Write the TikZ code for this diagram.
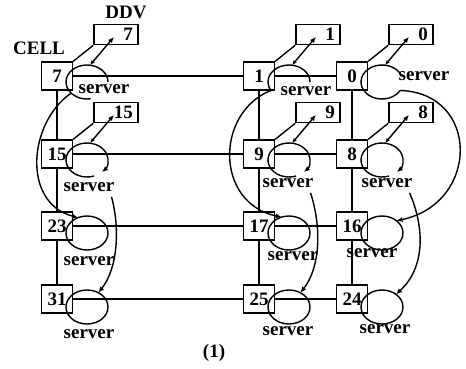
\documentclass[tikz,border=0pt]{standalone}
\usepackage{fontspec}
\setmainfont{Liberation Serif}
\usepackage{tikz}
\usetikzlibrary{arrows.meta,positioning,shapes.geometric}

\begin{document}
\begin{tikzpicture}[
  x=1pt, y=1pt,
  every node/.style={font=\fontsize{19}{21}\selectfont\bfseries},
  cellbox/.style={draw, line width=1.4pt, minimum width=31pt, minimum height=28pt, inner sep=0pt},
  ddvbox/.style={draw, line width=1.4pt, minimum height=20pt, text width=34pt, inner xsep=5pt, inner ysep=2pt, align=right},
  srv/.style={ellipse, minimum width=42pt, minimum height=34pt, inner sep=0pt, outer sep=0pt},
  srvfull/.style={srv, draw, line width=1.4pt},
  tag/.style={inner sep=1pt},
  wire/.style={line width=1.4pt},
  ring/.style={line width=1.4pt, x radius=21pt, y radius=17pt},
  link/.style={line width=1.4pt, -{Latex[length=6pt,width=5pt]}},
  duplex/.style={line width=1.4pt, {Latex[length=5pt,width=4pt]}-{Latex[length=6pt,width=5pt]}, shorten >=3pt}
]
\useasboundingbox (0,0) rectangle (466,368);

\node[cellbox] (c7) at (57,292) {7};
\node[cellbox] (c1) at (259,292) {1};
\node[cellbox] (c0) at (352,292) {0};
\node[cellbox] (c15) at (57,214) {15};
\node[cellbox] (c9) at (259,214) {9};
\node[cellbox] (c8) at (352,214) {8};
\node[cellbox] (c23) at (57,142) {23};
\node[cellbox] (c17) at (259,142) {17};
\node[cellbox] (c16) at (352,142) {16};
\node[cellbox] (c31) at (57,69) {31};
\node[cellbox] (c25) at (259,69) {25};
\node[cellbox] (c24) at (352,69) {24};

\node[ddvbox, above right=16pt and 20pt of c7] (d7) {7};
\node[ddvbox, above right=16pt and 20pt of c1] (d1) {1};
\node[ddvbox, above right=16pt and 20pt of c0] (d0) {0};
\node[ddvbox, above right=16pt and 20pt of c15] (d15) {15};
\node[ddvbox, above right=16pt and 20pt of c9] (d9) {9};
\node[ddvbox, above right=16pt and 20pt of c8] (d8) {8};

\node[srv] (s7) at ([xshift=30pt,yshift=-6pt]c7) {};
\node[srv] (s1) at ([xshift=30pt,yshift=-6pt]c1) {};
\node[srv] (s0) at ([xshift=30pt,yshift=-6pt]c0) {};
\node[srv] (s15) at ([xshift=30pt,yshift=-6pt]c15) {};
\node[srv] (s9) at ([xshift=30pt,yshift=-6pt]c9) {};
\node[srv] (s8) at ([xshift=30pt,yshift=-6pt]c8) {};
\node[srvfull] (s23) at ([xshift=30pt,yshift=-7pt]c23) {};
\node[srvfull] (s17) at ([xshift=30pt,yshift=-7pt]c17) {};
\node[srvfull] (s16) at ([xshift=30pt,yshift=-7pt]c16) {};
\node[srvfull] (s31) at ([xshift=30pt,yshift=-8pt]c31) {};
\node[srvfull] (s25) at ([xshift=30pt,yshift=-8pt]c25) {};
\node[srvfull] (s24) at ([xshift=30pt,yshift=-8pt]c24) {};

\node[tag] (l7) at (104,279) {server};
\node[tag] (l1) at (306,277) {server};
\node[tag] (l0) at (424,292) {server};
\node[tag] (l15) at (89,181) {server};
\node[tag] (l9) at (288,185) {server};
\node[tag] (l8) at (387,185) {server};
\node[tag] (l23) at (89,107) {server};
\node[tag] (l17) at (293,112) {server};
\node[tag] (l16) at (372,115) {server};
\node[tag] (l31) at (89,34) {server};
\node[tag] (l25) at (288,37) {server};
\node[tag] (l24) at (385,39) {server};
\node[tag] (ddv) at (126,356) {DDV};
\node[tag] (cell) at (39,320) {CELL};
\node[tag] (fig) at (214,15) {(1)};

\draw[wire] (c7) -- (c1);
\draw[wire] (c1) -- (c0);
\draw[wire] (c15) -- (c9);
\draw[wire] (c9) -- (c8);
\draw[wire] (c23) -- (c17);
\draw[wire] (c17) -- (c16);
\draw[wire] (c31) -- (c25);
\draw[wire] (c25) -- (c24);
\draw[wire] (c7) -- (c15);
\draw[wire] (c15) -- (c23);
\draw[wire] (c23) -- (c31);
\draw[wire] (c1) -- (c9);
\draw[wire] (c9) -- (c17);
\draw[wire] (c17) -- (c25);
\draw[wire] (c0) -- (c8);
\draw[wire] (c8) -- (c16);
\draw[wire] (c16) -- (c24);

\draw[wire] (c7.north east) -- (d7.south west);
\draw[wire] (c1.north east) -- (d1.south west);
\draw[wire] (c0.north east) -- (d0.south west);
\draw[wire] (c15.north east) -- (d15.south west);
\draw[wire] (c9.north east) -- (d9.south west);
\draw[wire] (c8.north east) -- (d8.south west);

\draw[ring] (s7.center) ++(0:21pt and 17pt) arc[start angle=0, end angle=280];
\draw[ring] (s1.center) ++(0:21pt and 17pt) arc[start angle=0, end angle=212];
\draw[ring] (s0.center) ++(30:21pt and 17pt) arc[start angle=30, end angle=330];
\draw[ring, -{Latex[length=6pt,width=5pt]}] (s15.center) ++(-70:21pt and 17pt) arc[start angle=-70, end angle=-405];
\draw[ring, -{Latex[length=6pt,width=5pt]}] (s9.center) ++(-70:21pt and 17pt) arc[start angle=-70, end angle=-405];
\draw[ring, -{Latex[length=6pt,width=5pt]}] (s8.center) ++(-70:21pt and 17pt) arc[start angle=-70, end angle=-405];

\draw[duplex] (s7.80) -- (d7.center);
\draw[duplex] (s1.80) -- (d1.center);
\draw[duplex] (s0.80) -- (d0.center);
\draw[duplex] (s15.80) -- (d15.center);
\draw[duplex] (s9.80) -- (d9.center);
\draw[duplex] (s8.80) -- (d8.center);

\draw[link] (s7.215) .. controls (28,245) and (22,165) .. (s23.120);
\draw[link] (s1.205) .. controls (215,255) and (215,165) .. (s17.115);
\draw[link] (s0.-25) .. controls (480,275) and (480,165) .. (s16.40);
\draw[link] ([xshift=-4pt,yshift=-4pt]l15.south east) .. controls (120,140) and (118,100) .. (s31);
\draw[link] ([xshift=-4pt,yshift=-4pt]l9.south east) .. controls (322,140) and (320,100) .. (s25);
\draw[link] ([xshift=-4pt,yshift=-4pt]l8.south east) .. controls (425,140) and (425,100) .. (s24);
\end{tikzpicture}
\end{document}
